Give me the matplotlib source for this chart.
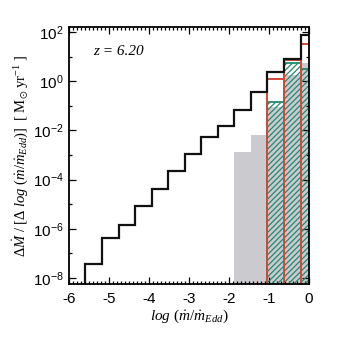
import matplotlib
matplotlib.use("Agg")
import matplotlib.pyplot as plt
import numpy as np
from matplotlib.ticker import FixedLocator, FuncFormatter, MultipleLocator, NullFormatter

plt.rcParams["mathtext.fontset"] = "custom"
plt.rcParams["mathtext.rm"] = "Liberation Serif"
plt.rcParams["mathtext.it"] = "Liberation Serif:italic"
plt.rcParams["mathtext.sf"] = "Liberation Sans"
plt.rcParams["mathtext.fallback"] = "stix"
plt.rcParams["font.family"] = ["Liberation Sans", "DejaVu Sans"]
plt.rcParams["hatch.linewidth"] = 0.9

# bin edges in log(mdot/mdot_Edd)
edges = [-6.0, -5.587, -5.173, -4.76, -4.347, -3.933, -3.52, -3.107,
         -2.693, -2.28, -1.867, -1.453, -1.04, -0.627, -0.213, 0.2]

# log10 of dM / dlog(mdot), per bin (None = empty)
all_log = [None, -7.44, -6.39, -5.86, -5.07, -4.39, -3.64, -2.95,
           -2.26, -1.82, -1.17, -0.44, 0.36, 0.89, 1.87]
gray_log = [None, None, None, None, None, None, None, None,
            None, None, -2.87, -2.19, -1.06, 0.25, 0.75]
green_log = [None, None, None, None, None, None, None, None,
             None, None, None, None, -0.85, 0.74, 0.48]
red_log = [None, None, None, None, None, None, None, None,
           None, None, None, None, 0.09, 0.85, 1.51]

label_z = "z = 6.20"

floor = 1e-12
edges = np.array(edges)
left = edges[:-1]
width = np.diff(edges)


def to_vals(logs):
    return np.array([floor if v is None else 10.0 ** v for v in logs])


fig = plt.figure(figsize=(3.43, 3.38), dpi=100)
ax = fig.add_axes([0.201, 0.160, 0.700, 0.760])
ax.set_yscale("log")

gray = to_vals(gray_log)
green = to_vals(green_log)
red = to_vals(red_log)
black = to_vals(all_log)

ax.bar(left, gray - floor, width, bottom=floor, align="edge",
       color="#cbcbcf", linewidth=0, zorder=1)

m = np.array([v is not None for v in green_log])
ax.bar(left[m], green[m] - floor, width[m], bottom=floor, align="edge",
       fill=False, hatch="//////", edgecolor="#21896b", linewidth=1.3, zorder=2)

m = np.array([v is not None for v in red_log])
ax.bar(left[m], red[m] - floor, width[m], bottom=floor, align="edge",
       fill=False, edgecolor="#d2493a", linewidth=1.4, zorder=3)

ax.stairs(black, edges, baseline=floor, color="#111111", linewidth=1.6, zorder=4)

ax.set_xlim(-6, 0)
ax.set_ylim(10 ** -8.24, 10 ** 2.2)

ax.xaxis.set_major_locator(MultipleLocator(1))
ax.xaxis.set_minor_locator(MultipleLocator(0.1))
ax.xaxis.set_major_formatter(FuncFormatter(lambda v, p: "%d" % round(v)))
ax.yaxis.set_major_locator(FixedLocator([10.0 ** k for k in range(-8, 3, 2)]))
ax.yaxis.set_minor_locator(FixedLocator([10.0 ** k for k in range(-7, 2, 2)]))
ax.yaxis.set_minor_formatter(NullFormatter())
ax.yaxis.set_major_formatter(
    FuncFormatter(lambda v, p: r"$\mathsf{10^{%d}}$" % round(np.log10(v))))

ax.tick_params(which="both", direction="in", top=True, right=True,
               labelsize=11, width=0.9, colors="black")
ax.tick_params(which="major", length=5)
ax.tick_params(which="minor", length=2.5)
ax.tick_params(axis="x", pad=6)
ax.tick_params(axis="y", pad=4)
for s in ax.spines.values():
    s.set_linewidth(1.3)
    s.set_zorder(6)

ax.text(0.10, 0.905, label_z, transform=ax.transAxes, fontsize=11,
        family="Liberation Serif", style="italic", va="center", ha="left")

ax.set_xlabel(r"$log\ (\dot{m}/\dot{m}_{Edd})$", fontsize=11, labelpad=1)
ax.set_ylabel(r"$\Delta\dot{M}\ /\ [\Delta\ log\ (\dot{m}/\dot{m}_{Edd})]\ \ [\ \mathrm{M_{\odot}\ yr^{-1}}\ ]$",
              fontsize=10.5, labelpad=2)

fig.savefig("out.png", dpi=100)
